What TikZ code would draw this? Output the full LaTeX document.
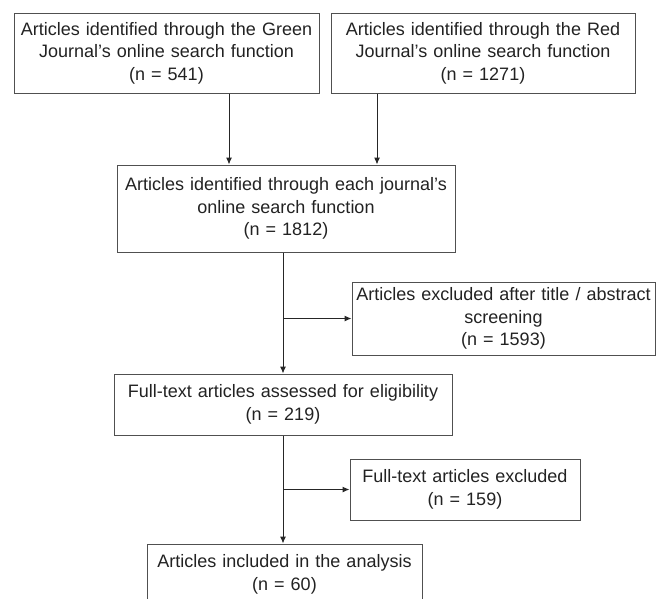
\documentclass[tikz,border=0pt]{standalone}
\usepackage{fontspec}
\setmainfont{Liberation Sans}
\usetikzlibrary{arrows.meta,positioning,calc}
\definecolor{boxline}{HTML}{505050}
\definecolor{inktext}{HTML}{222222}

\begin{document}
\begin{tikzpicture}[x=1pt,y=-1pt,font=\fontsize{18}{22.6}\selectfont, >={Latex[length=7pt,width=6pt]},
 box/.style={draw=boxline,line width=1pt,align=center,inner xsep=0pt,inner ysep=0pt,text=inktext},
 line/.style={->,line width=1pt,draw=black!85,fill=black!85}]
\clip (0,0) rectangle (658,598);
\node[box,text width=305pt,minimum height=80pt] (green) at (166.5,53) {Articles identified through the Green\\Journal’s online search function\\(n = 541)};
\node[box,text width=304pt,minimum height=80pt] (red) at (483,53) {Articles identified through the Red\\Journal’s online search function\\(n = 1271)};
\node[box,text width=338pt,minimum height=87pt] (each) at (286,208.5) {Articles identified through each journal’s\\online search function\\(n = 1812)};
\node[box,text width=303pt,minimum height=73pt] (screen) at (503.5,318.5) {Articles excluded after title / abstract\\screening\\(n = 1593)};
\node[box,text width=338pt,minimum height=61pt] (full) at (283,404.5) {Full-text articles assessed for eligibility\\(n = 219)};
\node[box,text width=230pt,minimum height=61pt] (excl) at (465,489.5) {Full-text articles excluded\\(n = 159)};
\node[box,text width=275pt,minimum height=61pt] (incl) at (284.5,574.5) {Articles included in the analysis\\(n = 60)};
\coordinate (gx) at (229,0);
\coordinate (rx) at (377,0);
\draw[line] (green.south -| gx)--(each.north -| gx);
\draw[line] (red.south -| rx)--(each.north -| rx);
\draw[line] (full.north |- each.south)--(full.north);
\draw[line] (full.north |- screen.west)--(screen.west);
\draw[line] (full.south)--(incl.north -| full.south);
\draw[line] (full.south |- excl.west)--(excl.west);
\end{tikzpicture}
\end{document}
